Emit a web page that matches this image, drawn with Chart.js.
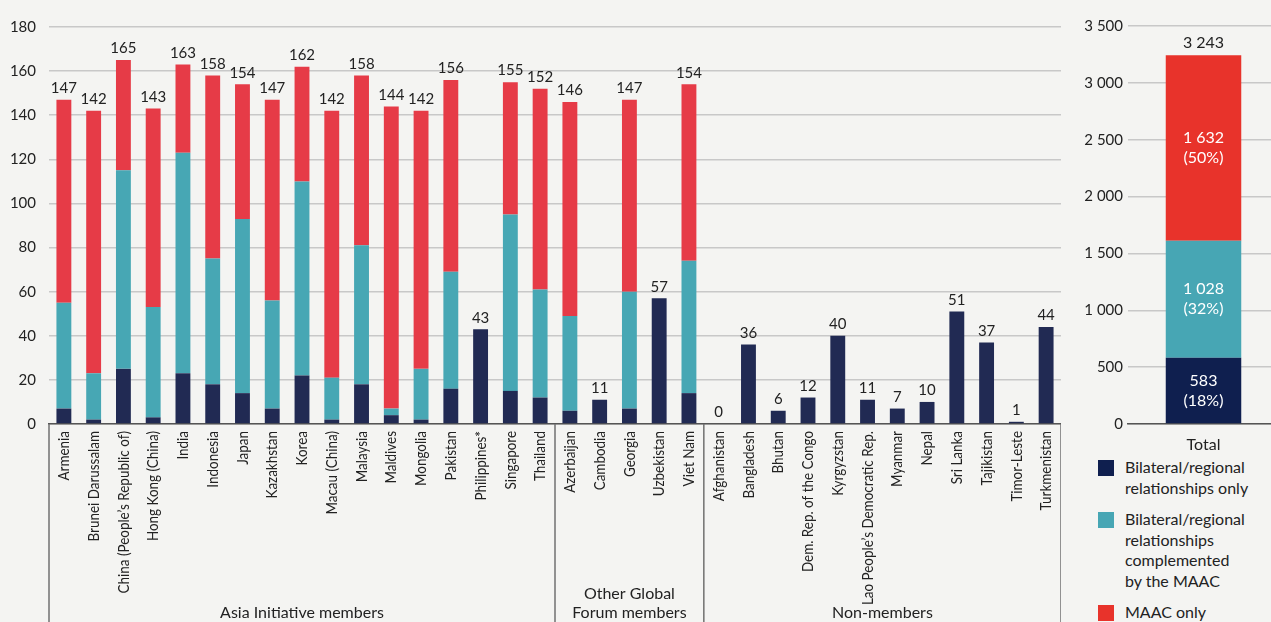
<!DOCTYPE html>
<html lang="en">
<head>
<meta charset="UTF-8">
<title>Exchange of information relationships</title>
<script src="https://cdn.jsdelivr.net/npm/chart.js"></script>
<style>
    html, body {
        margin: 0;
        padding: 0;
        width: 1271px;
        height: 622px;
        overflow: hidden;
        background: #f4f4f2;
    }
    #mainChart { position: absolute; left: 0; top: 0; }
    #totalChart { position: absolute; left: 1061px; top: 0; }
    #legend {
        position: absolute;
        left: 1098px;
        top: 457px;
        font-family: Lato, sans-serif;
        font-size: 16px;
        line-height: 20.5px;
        color: #222;
    }
    .item { position: relative; padding-left: 27px; margin-bottom: 11px; white-space: nowrap; }
    .swatch { position: absolute; left: 0; top: 3px; width: 16px; height: 16px; }
</style>
</head>
<body>
<canvas id="mainChart" width="1061" height="622"></canvas>
<canvas id="totalChart" width="218" height="450"></canvas>
<div id="legend">
    <div class="item"><span class="swatch" style="background:#0f1f4f"></span>Bilateral/regional<br>relationships only</div>
    <div class="item"><span class="swatch" style="background:#47a6b4"></span>Bilateral/regional<br>relationships<br>complemented<br>by the MAAC</div>
    <div class="item"><span class="swatch" style="background:#e8332b"></span>MAAC only</div>
</div>

<script>
// Jurisdictions, in the order they appear on the axis
const countries = [
    'Armenia', 'Brunei Darussalam', 'China (People’s Republic of)', 'Hong Kong (China)', 'India',
    'Indonesia', 'Japan', 'Kazakhstan', 'Korea', 'Macau (China)', 'Malaysia', 'Maldives',
    'Mongolia', 'Pakistan', 'Philippines*', 'Singapore', 'Thailand',
    'Azerbaijan', 'Cambodia', 'Georgia', 'Uzbekistan', 'Viet Nam',
    'Afghanistan', 'Bangladesh', 'Bhutan', 'Dem. Rep. of the Congo', 'Kyrgyzstan',
    'Lao People’s Democratic Rep.', 'Myanmar', 'Nepal', 'Sri Lanka', 'Tajikistan',
    'Timor-Leste', 'Turkmenistan'
];

// Number of relationships per jurisdiction, by type
const bilateralOnly = [7, 2, 25, 3, 23, 18, 14, 7, 22, 2, 18, 4, 2, 16, 43, 15, 12,
    6, 11, 7, 57, 14,
    0, 36, 6, 12, 40, 11, 7, 10, 51, 37, 1, 44];
const complemented = [48, 21, 90, 50, 100, 57, 79, 49, 88, 19, 63, 3, 23, 53, 0, 80, 49,
    43, 0, 53, 0, 60,
    0, 0, 0, 0, 0, 0, 0, 0, 0, 0, 0, 0];
const maacOnly = [92, 119, 50, 90, 40, 83, 61, 91, 52, 121, 77, 137, 117, 87, 0, 60, 91,
    97, 0, 87, 0, 80,
    0, 0, 0, 0, 0, 0, 0, 0, 0, 0, 0, 0];

// Groups along the x axis (label lines, number of jurisdictions)
const groupLabels = [['Asia Initiative members'], ['Other Global', 'Forum members'], ['Non-members']];
const groupSizes = [17, 5, 12];

// Totals for the whole region
const totalLabels = ['Total'];
const totalBilateral = [583];
const totalComplemented = [1028];
const totalMaac = [1632];

const leftTicks = [0, 20, 40, 60, 80, 100, 120, 140, 160, 180];

Chart.defaults.font.family = 'Lato, sans-serif';
Chart.defaults.color = '#222';

function fmt(n) {
    return String(n).replace(/\B(?=(\d{3})+(?!\d))/g, ' ');
}

// Totals above each stacked bar
const barTotals = {
    id: 'barTotals',
    afterDatasetsDraw(chart) {
        const { ctx, scales: { x, y } } = chart;
        ctx.save();
        ctx.font = '15px Lato, sans-serif';
        ctx.fillStyle = '#222';
        ctx.textAlign = 'center';
        ctx.textBaseline = 'bottom';
        chart.data.labels.forEach((lab, i) => {
            const total = chart.data.datasets.reduce((s, ds) => s + ds.data[i], 0);
            ctx.fillText(fmt(total), x.getPixelForValue(i), y.getPixelForValue(total) - 4);
        });
        ctx.restore();
    }
};

// Condensed vertical category names (no narrow face installed, so squeeze Lato)
const narrowLabels = {
    id: 'narrowLabels',
    afterDraw(chart) {
        const { ctx, chartArea, scales: { x } } = chart;
        ctx.save();
        ctx.font = '16px Lato, sans-serif';
        ctx.fillStyle = '#222';
        ctx.textAlign = 'right';
        ctx.textBaseline = 'middle';
        chart.data.labels.forEach((lab, i) => {
            ctx.save();
            ctx.translate(x.getPixelForValue(i), chartArea.bottom + 7);
            ctx.rotate(-Math.PI / 2);
            ctx.scale(0.84, 1);
            ctx.fillText(lab, 0, 0);
            ctx.restore();
        });
        ctx.restore();
    }
};

// Group separators and group names under the rotated labels
const groupBands = {
    id: 'groupBands',
    afterDraw(chart) {
        const { ctx, chartArea, scales: { x } } = chart;
        const step = x.getPixelForValue(1) - x.getPixelForValue(0);
        const bottom = chart.height;
        ctx.save();
        ctx.strokeStyle = '#707070';
        ctx.lineWidth = 1.5;
        let start = 0;
        const edges = [x.getPixelForValue(0) - step / 2];
        groupSizes.forEach(n => {
            start += n;
            edges.push(x.getPixelForValue(start - 1) + step / 2);
        });
        edges.forEach(px => {
            ctx.beginPath();
            ctx.moveTo(px, chartArea.bottom);
            ctx.lineTo(px, bottom);
            ctx.stroke();
        });
        ctx.font = '16px Lato, sans-serif';
        ctx.fillStyle = '#222';
        ctx.textAlign = 'center';
        ctx.textBaseline = 'middle';
        groupLabels.forEach((lines, g) => {
            const cx = (edges[g] + edges[g + 1]) / 2;
            lines.slice().reverse().forEach((line, k) => {
                ctx.fillText(line, cx, 613 - k * 19);
            });
        });
        ctx.restore();
    }
};

new Chart(document.getElementById('mainChart'), {
    type: 'bar',
    data: {
        labels: countries,
        datasets: [
            { label: 'Bilateral/regional relationships only', data: bilateralOnly, backgroundColor: '#212a53' },
            { label: 'Bilateral/regional relationships complemented by the MAAC', data: complemented, backgroundColor: '#47a7b4' },
            { label: 'MAAC only', data: maacOnly, backgroundColor: '#e63b47' }
        ]
    },
    options: {
        responsive: false,
        animation: false,
        layout: { padding: { top: 27, left: 0, right: 0, bottom: 0 } },
        datasets: { bar: { barPercentage: 0.5, categoryPercentage: 1 } },
        plugins: { legend: { display: false }, tooltip: { enabled: false } },
        scales: {
            x: {
                stacked: true,
                grid: { display: false },
                border: { display: true, color: '#555', width: 1.5 },
                ticks: { display: false },
                afterFit(scale) {
                    scale.height = 198;
                    scale.paddingLeft = 0;
                    scale.paddingRight = 0;
                }
            },
            y: {
                stacked: true,
                min: 0,
                max: 180,
                afterBuildTicks(scale) {
                    scale.ticks = leftTicks.map(v => ({ value: v }));
                },
                grid: { color: '#c8c8c8', lineWidth: 1.5, drawTicks: false },
                border: { display: false },
                ticks: { padding: 13, font: { size: 15 }, color: '#222' },
                afterFit(scale) {
                    scale.width = 49;
                }
            }
        }
    },
    plugins: [barTotals, narrowLabels, groupBands]
});

// Values and shares written inside the total bar
const segmentLabels = {
    id: 'segmentLabels',
    afterDatasetsDraw(chart) {
        const { ctx } = chart;
        const grand = chart.data.datasets.reduce((s, ds) => s + ds.data[0], 0);
        ctx.save();
        ctx.textAlign = 'center';
        ctx.textBaseline = 'middle';
        ctx.font = '16px Lato, sans-serif';
        chart.data.datasets.forEach((ds, i) => {
            const bar = chart.getDatasetMeta(i).data[0];
            const cy = (bar.y + bar.base) / 2;
            const v = ds.data[0];
            ctx.fillStyle = '#fff';
            ctx.fillText(fmt(v), bar.x, cy - 10);
            ctx.fillText('(' + Math.round(v / grand * 100) + '%)', bar.x, cy + 10);
        });
        const top = chart.getDatasetMeta(chart.data.datasets.length - 1).data[0];
        ctx.fillStyle = '#222';
        ctx.textBaseline = 'bottom';
        ctx.fillText(fmt(grand), top.x, top.y - 4);
        ctx.restore();
    }
};

new Chart(document.getElementById('totalChart'), {
    type: 'bar',
    data: {
        labels: totalLabels,
        datasets: [
            { label: 'Bilateral/regional relationships only', data: totalBilateral, backgroundColor: '#0f1f4f' },
            { label: 'Bilateral/regional relationships complemented by the MAAC', data: totalComplemented, backgroundColor: '#47a6b4' },
            { label: 'MAAC only', data: totalMaac, backgroundColor: '#e8332b' }
        ]
    },
    options: {
        responsive: false,
        animation: false,
        layout: { padding: { top: 26, left: 0, right: 0, bottom: 0 } },
        datasets: { bar: { barPercentage: 0.5, categoryPercentage: 1 } },
        plugins: { legend: { display: false }, tooltip: { enabled: false } },
        scales: {
            x: {
                stacked: true,
                grid: { display: false },
                border: { display: true, color: '#555', width: 1.5 },
                ticks: { padding: 3, font: { size: 16 }, color: '#222' },
                afterFit(scale) {
                    scale.height = 26;
                    scale.paddingLeft = 0;
                    scale.paddingRight = 0;
                }
            },
            y: {
                stacked: true,
                min: 0,
                max: 3500,
                ticks: { stepSize: 500, padding: 5, font: { size: 15 }, color: '#222', callback: v => fmt(v) },
                grid: { color: '#c8c8c8', lineWidth: 1.5, drawTicks: false },
                border: { display: false },
                afterFit(scale) {
                    scale.width = 67;
                }
            }
        }
    },
    plugins: [segmentLabels]
});
</script>
</body>
</html>
